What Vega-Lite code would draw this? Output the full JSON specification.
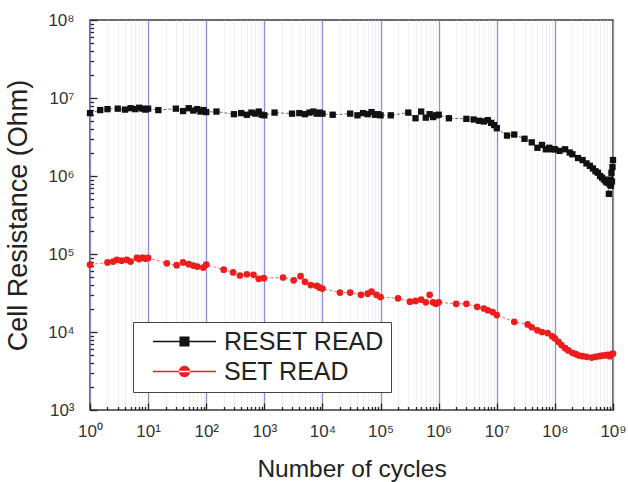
{
  "$schema": "https://vega.github.io/schema/vega-lite/v6.json",
  "width": 523,
  "height": 390,
  "autosize": "none",
  "padding": {"left": 90, "top": 20, "right": 15, "bottom": 72},
  "background": "white",
  "config": {
    "font": "Liberation Sans",
    "view": {"stroke": "#3a3a3a", "strokeWidth": 1.5}
  },
  "data": {
    "values": [
      {"series": "RESET READ", "cycles": 1, "ohm": 6400000},
      {"series": "RESET READ", "cycles": 1.5, "ohm": 7000000},
      {"series": "RESET READ", "cycles": 2, "ohm": 7200000},
      {"series": "RESET READ", "cycles": 3, "ohm": 7300000},
      {"series": "RESET READ", "cycles": 4, "ohm": 7100000},
      {"series": "RESET READ", "cycles": 5, "ohm": 7400000},
      {"series": "RESET READ", "cycles": 6, "ohm": 7200000},
      {"series": "RESET READ", "cycles": 7, "ohm": 7500000},
      {"series": "RESET READ", "cycles": 8, "ohm": 7300000},
      {"series": "RESET READ", "cycles": 9, "ohm": 7100000},
      {"series": "RESET READ", "cycles": 10, "ohm": 7300000},
      {"series": "RESET READ", "cycles": 15, "ohm": 7000000},
      {"series": "RESET READ", "cycles": 30, "ohm": 7300000},
      {"series": "RESET READ", "cycles": 40, "ohm": 6800000},
      {"series": "RESET READ", "cycles": 50, "ohm": 7400000},
      {"series": "RESET READ", "cycles": 60, "ohm": 6900000},
      {"series": "RESET READ", "cycles": 70, "ohm": 7200000},
      {"series": "RESET READ", "cycles": 80, "ohm": 6700000},
      {"series": "RESET READ", "cycles": 90, "ohm": 7000000},
      {"series": "RESET READ", "cycles": 100, "ohm": 6600000},
      {"series": "RESET READ", "cycles": 150, "ohm": 6700000},
      {"series": "RESET READ", "cycles": 300, "ohm": 6200000},
      {"series": "RESET READ", "cycles": 400, "ohm": 6400000},
      {"series": "RESET READ", "cycles": 500, "ohm": 6100000},
      {"series": "RESET READ", "cycles": 600, "ohm": 6500000},
      {"series": "RESET READ", "cycles": 700, "ohm": 6300000},
      {"series": "RESET READ", "cycles": 800, "ohm": 6700000},
      {"series": "RESET READ", "cycles": 900, "ohm": 6100000},
      {"series": "RESET READ", "cycles": 1000, "ohm": 6000000},
      {"series": "RESET READ", "cycles": 1500, "ohm": 6500000},
      {"series": "RESET READ", "cycles": 3000, "ohm": 6300000},
      {"series": "RESET READ", "cycles": 4000, "ohm": 6400000},
      {"series": "RESET READ", "cycles": 5000, "ohm": 6200000},
      {"series": "RESET READ", "cycles": 6000, "ohm": 6500000},
      {"series": "RESET READ", "cycles": 7000, "ohm": 6700000},
      {"series": "RESET READ", "cycles": 8000, "ohm": 6300000},
      {"series": "RESET READ", "cycles": 9000, "ohm": 6500000},
      {"series": "RESET READ", "cycles": 10000, "ohm": 6300000},
      {"series": "RESET READ", "cycles": 15000, "ohm": 6100000},
      {"series": "RESET READ", "cycles": 30000, "ohm": 6300000},
      {"series": "RESET READ", "cycles": 40000, "ohm": 6000000},
      {"series": "RESET READ", "cycles": 50000, "ohm": 6400000},
      {"series": "RESET READ", "cycles": 60000, "ohm": 6200000},
      {"series": "RESET READ", "cycles": 70000, "ohm": 6600000},
      {"series": "RESET READ", "cycles": 80000, "ohm": 6100000},
      {"series": "RESET READ", "cycles": 90000, "ohm": 6200000},
      {"series": "RESET READ", "cycles": 100000, "ohm": 6000000},
      {"series": "RESET READ", "cycles": 150000, "ohm": 6000000},
      {"series": "RESET READ", "cycles": 300000, "ohm": 6500000},
      {"series": "RESET READ", "cycles": 400000, "ohm": 5500000},
      {"series": "RESET READ", "cycles": 500000, "ohm": 6700000},
      {"series": "RESET READ", "cycles": 600000, "ohm": 5600000},
      {"series": "RESET READ", "cycles": 700000, "ohm": 6200000},
      {"series": "RESET READ", "cycles": 800000, "ohm": 5700000},
      {"series": "RESET READ", "cycles": 900000, "ohm": 6000000},
      {"series": "RESET READ", "cycles": 1000000, "ohm": 6100000},
      {"series": "RESET READ", "cycles": 1500000, "ohm": 5500000},
      {"series": "RESET READ", "cycles": 3000000, "ohm": 5400000},
      {"series": "RESET READ", "cycles": 4000000, "ohm": 5300000},
      {"series": "RESET READ", "cycles": 5000000, "ohm": 5100000},
      {"series": "RESET READ", "cycles": 6000000, "ohm": 5000000},
      {"series": "RESET READ", "cycles": 7000000, "ohm": 5200000},
      {"series": "RESET READ", "cycles": 8000000, "ohm": 4800000},
      {"series": "RESET READ", "cycles": 9000000, "ohm": 4500000},
      {"series": "RESET READ", "cycles": 10000000, "ohm": 4100000},
      {"series": "RESET READ", "cycles": 15000000, "ohm": 3300000},
      {"series": "RESET READ", "cycles": 20000000, "ohm": 3400000},
      {"series": "RESET READ", "cycles": 30000000, "ohm": 3000000},
      {"series": "RESET READ", "cycles": 40000000, "ohm": 2700000},
      {"series": "RESET READ", "cycles": 50000000, "ohm": 2300000},
      {"series": "RESET READ", "cycles": 60000000, "ohm": 2500000},
      {"series": "RESET READ", "cycles": 70000000, "ohm": 2200000},
      {"series": "RESET READ", "cycles": 80000000, "ohm": 2300000},
      {"series": "RESET READ", "cycles": 90000000, "ohm": 2200000},
      {"series": "RESET READ", "cycles": 100000000, "ohm": 2200000},
      {"series": "RESET READ", "cycles": 120000000, "ohm": 2100000},
      {"series": "RESET READ", "cycles": 150000000, "ohm": 2200000},
      {"series": "RESET READ", "cycles": 180000000, "ohm": 2000000},
      {"series": "RESET READ", "cycles": 200000000, "ohm": 1900000},
      {"series": "RESET READ", "cycles": 250000000, "ohm": 1700000},
      {"series": "RESET READ", "cycles": 300000000, "ohm": 1600000},
      {"series": "RESET READ", "cycles": 350000000, "ohm": 1450000},
      {"series": "RESET READ", "cycles": 400000000, "ohm": 1350000},
      {"series": "RESET READ", "cycles": 450000000, "ohm": 1250000},
      {"series": "RESET READ", "cycles": 500000000, "ohm": 1150000},
      {"series": "RESET READ", "cycles": 550000000, "ohm": 1100000},
      {"series": "RESET READ", "cycles": 600000000, "ohm": 1000000},
      {"series": "RESET READ", "cycles": 650000000, "ohm": 950000},
      {"series": "RESET READ", "cycles": 700000000, "ohm": 900000},
      {"series": "RESET READ", "cycles": 750000000, "ohm": 850000},
      {"series": "RESET READ", "cycles": 800000000, "ohm": 820000},
      {"series": "RESET READ", "cycles": 850000000, "ohm": 590000},
      {"series": "RESET READ", "cycles": 880000000, "ohm": 780000},
      {"series": "RESET READ", "cycles": 900000000, "ohm": 900000},
      {"series": "RESET READ", "cycles": 920000000, "ohm": 750000},
      {"series": "RESET READ", "cycles": 940000000, "ohm": 1100000},
      {"series": "RESET READ", "cycles": 960000000, "ohm": 850000},
      {"series": "RESET READ", "cycles": 980000000, "ohm": 1300000},
      {"series": "RESET READ", "cycles": 1000000000, "ohm": 1600000},
      {"series": "SET READ", "cycles": 1, "ohm": 73000},
      {"series": "SET READ", "cycles": 2, "ohm": 78000},
      {"series": "SET READ", "cycles": 2.5, "ohm": 80000},
      {"series": "SET READ", "cycles": 2.9, "ohm": 84000},
      {"series": "SET READ", "cycles": 3.5, "ohm": 82000},
      {"series": "SET READ", "cycles": 4.3, "ohm": 84000},
      {"series": "SET READ", "cycles": 5, "ohm": 80000},
      {"series": "SET READ", "cycles": 6.4, "ohm": 89000},
      {"series": "SET READ", "cycles": 7, "ohm": 86000},
      {"series": "SET READ", "cycles": 8, "ohm": 90000},
      {"series": "SET READ", "cycles": 9, "ohm": 87000},
      {"series": "SET READ", "cycles": 10, "ohm": 89000},
      {"series": "SET READ", "cycles": 21, "ohm": 76000},
      {"series": "SET READ", "cycles": 31, "ohm": 72000},
      {"series": "SET READ", "cycles": 40, "ohm": 78000},
      {"series": "SET READ", "cycles": 50, "ohm": 74000},
      {"series": "SET READ", "cycles": 60, "ohm": 71000},
      {"series": "SET READ", "cycles": 70, "ohm": 69000},
      {"series": "SET READ", "cycles": 89, "ohm": 67000},
      {"series": "SET READ", "cycles": 100, "ohm": 73000},
      {"series": "SET READ", "cycles": 200, "ohm": 63000},
      {"series": "SET READ", "cycles": 290, "ohm": 58000},
      {"series": "SET READ", "cycles": 380, "ohm": 53000},
      {"series": "SET READ", "cycles": 500, "ohm": 55000},
      {"series": "SET READ", "cycles": 650, "ohm": 54000},
      {"series": "SET READ", "cycles": 800, "ohm": 48000},
      {"series": "SET READ", "cycles": 980, "ohm": 49000},
      {"series": "SET READ", "cycles": 2100, "ohm": 50000},
      {"series": "SET READ", "cycles": 3200, "ohm": 46000},
      {"series": "SET READ", "cycles": 4200, "ohm": 52000},
      {"series": "SET READ", "cycles": 5000, "ohm": 44000},
      {"series": "SET READ", "cycles": 6300, "ohm": 40000},
      {"series": "SET READ", "cycles": 8000, "ohm": 39000},
      {"series": "SET READ", "cycles": 9000, "ohm": 37000},
      {"series": "SET READ", "cycles": 10000, "ohm": 36000},
      {"series": "SET READ", "cycles": 20000, "ohm": 32000},
      {"series": "SET READ", "cycles": 30000, "ohm": 32000},
      {"series": "SET READ", "cycles": 46000, "ohm": 30000},
      {"series": "SET READ", "cycles": 60000, "ohm": 31000},
      {"series": "SET READ", "cycles": 70000, "ohm": 33000},
      {"series": "SET READ", "cycles": 85000, "ohm": 30000},
      {"series": "SET READ", "cycles": 100000, "ohm": 28000},
      {"series": "SET READ", "cycles": 200000, "ohm": 27000},
      {"series": "SET READ", "cycles": 320000, "ohm": 24500},
      {"series": "SET READ", "cycles": 400000, "ohm": 25000},
      {"series": "SET READ", "cycles": 500000, "ohm": 26000},
      {"series": "SET READ", "cycles": 600000, "ohm": 24000},
      {"series": "SET READ", "cycles": 700000, "ohm": 30000},
      {"series": "SET READ", "cycles": 800000, "ohm": 24000},
      {"series": "SET READ", "cycles": 900000, "ohm": 23000},
      {"series": "SET READ", "cycles": 1000000, "ohm": 24000},
      {"series": "SET READ", "cycles": 2000000, "ohm": 23000},
      {"series": "SET READ", "cycles": 3000000, "ohm": 23000},
      {"series": "SET READ", "cycles": 4600000, "ohm": 21000},
      {"series": "SET READ", "cycles": 6000000, "ohm": 20000},
      {"series": "SET READ", "cycles": 7000000, "ohm": 19000},
      {"series": "SET READ", "cycles": 8500000, "ohm": 18000},
      {"series": "SET READ", "cycles": 10000000, "ohm": 16500},
      {"series": "SET READ", "cycles": 20000000, "ohm": 13500},
      {"series": "SET READ", "cycles": 34000000, "ohm": 12500},
      {"series": "SET READ", "cycles": 40000000, "ohm": 11500},
      {"series": "SET READ", "cycles": 50000000, "ohm": 10500},
      {"series": "SET READ", "cycles": 60000000, "ohm": 10000},
      {"series": "SET READ", "cycles": 75000000, "ohm": 9700},
      {"series": "SET READ", "cycles": 90000000, "ohm": 8800},
      {"series": "SET READ", "cycles": 100000000, "ohm": 8300},
      {"series": "SET READ", "cycles": 115000000, "ohm": 7500},
      {"series": "SET READ", "cycles": 130000000, "ohm": 6800},
      {"series": "SET READ", "cycles": 150000000, "ohm": 6200},
      {"series": "SET READ", "cycles": 170000000, "ohm": 5800},
      {"series": "SET READ", "cycles": 200000000, "ohm": 5400},
      {"series": "SET READ", "cycles": 230000000, "ohm": 5200},
      {"series": "SET READ", "cycles": 260000000, "ohm": 5000},
      {"series": "SET READ", "cycles": 300000000, "ohm": 4900},
      {"series": "SET READ", "cycles": 350000000, "ohm": 4800},
      {"series": "SET READ", "cycles": 430000000, "ohm": 4700},
      {"series": "SET READ", "cycles": 500000000, "ohm": 4800},
      {"series": "SET READ", "cycles": 580000000, "ohm": 4900},
      {"series": "SET READ", "cycles": 650000000, "ohm": 5000},
      {"series": "SET READ", "cycles": 720000000, "ohm": 5000},
      {"series": "SET READ", "cycles": 800000000, "ohm": 5100},
      {"series": "SET READ", "cycles": 880000000, "ohm": 4900},
      {"series": "SET READ", "cycles": 950000000, "ohm": 5200},
      {"series": "SET READ", "cycles": 1000000000, "ohm": 5300}
    ]
  },
  "encoding": {
    "x": {
      "field": "cycles",
      "type": "quantitative",
      "title": "Number of cycles",
      "scale": {"type": "log", "domain": [1, 1000000000], "nice": false},
      "axis": {
        "values": [1,2,3,4,5,6,7,8,9,10,20,30,40,50,60,70,80,90,100,200,300,400,500,600,700,800,900,1000,2000,3000,4000,5000,6000,7000,8000,9000,10000,20000,30000,40000,50000,60000,70000,80000,90000,100000,200000,300000,400000,500000,600000,700000,800000,900000,1000000,2000000,3000000,4000000,5000000,6000000,7000000,8000000,9000000,10000000,20000000,30000000,40000000,50000000,60000000,70000000,80000000,90000000,100000000,200000000,300000000,400000000,500000000,600000000,700000000,800000000,900000000,1000000000],
        "labelExpr": "abs(log(datum.value)/LN10 - round(log(datum.value)/LN10)) < 0.001 ? '10' + ['⁰','¹','²','³','⁴','⁵','⁶','⁷','⁸','⁹'][round(log(datum.value)/LN10)] : ''",
        "labelOverlap": false,
        "labelFlush": false,
        "labelFontSize": 17,
        "labelColor": "#333",
        "labelPadding": 20,
        "domain": false,
        "grid": true,
        "gridColor": {"condition": {"test": "abs(log(datum.value)/LN10 - round(log(datum.value)/LN10)) < 0.001", "value": "#8f8fd0"}, "value": "#ebebf2"},
        "gridWidth": {"condition": {"test": "abs(log(datum.value)/LN10 - round(log(datum.value)/LN10)) < 0.001", "value": 1.3}, "value": 0.8},
        "tickColor": "#222",
        "tickWidth": 1.3,
        "tickSize": {"condition": {"test": "abs(log(datum.value)/LN10 - round(log(datum.value)/LN10)) < 0.001", "value": -7}, "value": -3.5},
        "titleFontSize": 24.5,
        "titleFontWeight": "normal",
        "titleColor": "#222",
        "titlePadding": 15
      }
    },
    "y": {
      "field": "ohm",
      "type": "quantitative",
      "title": "Cell Resistance (Ohm)",
      "scale": {"type": "log", "domain": [1000, 100000000], "nice": false},
      "axis": {
        "values": [1000,2000,3000,4000,5000,6000,7000,8000,9000,10000,20000,30000,40000,50000,60000,70000,80000,90000,100000,200000,300000,400000,500000,600000,700000,800000,900000,1000000,2000000,3000000,4000000,5000000,6000000,7000000,8000000,9000000,10000000,20000000,30000000,40000000,50000000,60000000,70000000,80000000,90000000,100000000],
        "labelExpr": "abs(log(datum.value)/LN10 - round(log(datum.value)/LN10)) < 0.001 ? '10' + ['⁰','¹','²','³','⁴','⁵','⁶','⁷','⁸','⁹'][round(log(datum.value)/LN10)] : ''",
        "labelOverlap": false,
        "labelFlush": false,
        "labelFontSize": 17,
        "labelColor": "#333",
        "labelPadding": 23,
        "domain": false,
        "grid": false,
        "tickColor": "#222",
        "tickWidth": 1.3,
        "tickSize": {"condition": {"test": "abs(log(datum.value)/LN10 - round(log(datum.value)/LN10)) < 0.001", "value": -7}, "value": -3.5},
        "titleFontSize": 27,
        "titleFontWeight": "normal",
        "titleColor": "#222",
        "titlePadding": 15
      }
    }
  },
  "layer": [
    {
      "mark": {"type": "point", "filled": true, "opacity": 0},
      "encoding": {
        "color": {
          "field": "series",
          "type": "nominal",
          "scale": {"domain": ["RESET READ", "SET READ"], "range": ["#111111", "#ee1c1c"]},
          "legend": {
            "title": null,
            "orient": "none",
            "legendX": 43,
            "legendY": 302,
            "direction": "vertical",
            "padding": 7,
            "strokeColor": "#444",
            "fillColor": "white",
            "symbolSize": 3969,
            "symbolOpacity": 1,
            "symbolStrokeWidth": 0,
            "clipHeight": 25,
            "rowPadding": 4,
            "symbolOffset": 13,
            "labelFontSize": 25,
            "labelColor": "#222",
            "labelOffset": 8
          }
        },
        "shape": {
          "field": "series",
          "type": "nominal",
          "scale": {
            "domain": ["RESET READ", "SET READ"],
            "range": [
              "M-1,-0.02H1V0.02H-1Z M-0.16,-0.16H0.16V0.16H-0.16Z",
              "M-1,-0.02H1V0.02H-1Z M-0.18,0A0.18,0.18 0 1,0 0.18,0A0.18,0.18 0 1,0 -0.18,0Z"
            ]
          },
          "legend": {
            "title": null,
            "orient": "none",
            "legendX": 43,
            "legendY": 302,
            "direction": "vertical",
            "padding": 7,
            "strokeColor": "#444",
            "fillColor": "white",
            "symbolSize": 3969,
            "symbolOpacity": 1,
            "symbolStrokeWidth": 0,
            "clipHeight": 25,
            "rowPadding": 4,
            "symbolOffset": 13,
            "labelFontSize": 25,
            "labelColor": "#222",
            "labelOffset": 8
          }
        }
      }
    },
    {
      "mark": {"type": "line", "strokeWidth": 0.8, "strokeDash": [3, 2], "opacity": 0.8},
      "encoding": {
        "color": {"field": "series", "type": "nominal", "legend": null}
      }
    },
    {
      "transform": [{"filter": "datum.series === 'RESET READ'"}],
      "mark": {"type": "point", "filled": true, "size": 40, "opacity": 1, "shape": "square", "color": "#111111"},
      "encoding": {}
    },
    {
      "transform": [{"filter": "datum.series === 'SET READ'"}],
      "mark": {"type": "point", "filled": true, "size": 45, "opacity": 1, "shape": "circle", "color": "#ee1c1c"},
      "encoding": {}
    }
  ]
}
